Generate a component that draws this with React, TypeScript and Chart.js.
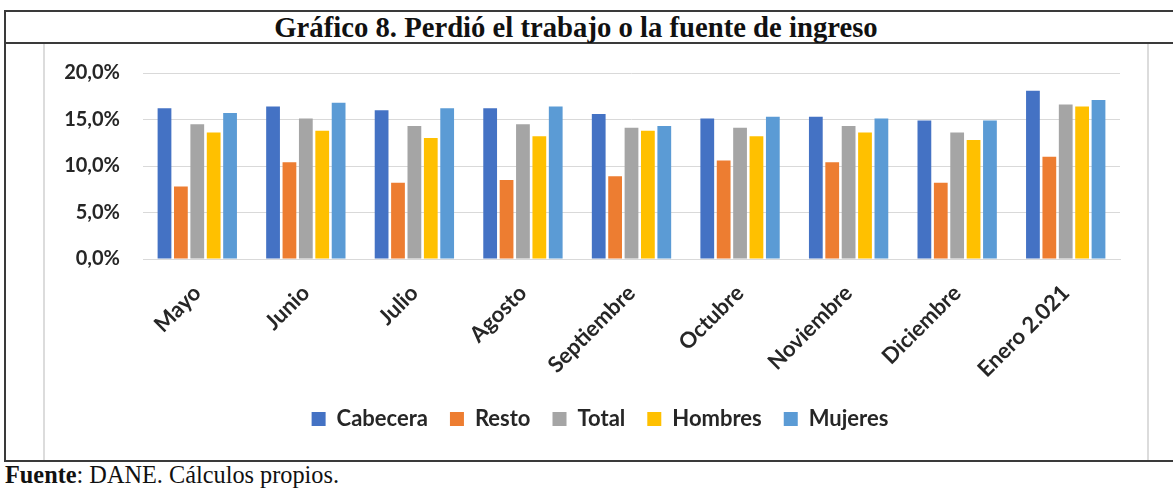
import React, { useEffect, useRef } from "react";
import { Chart, registerables } from "chart.js";

Chart.register(...registerables);

const categories = ["Mayo", "Junio", "Julio", "Agosto", "Septiembre", "Octubre", "Noviembre", "Diciembre", "Enero 2.021"];
const seriesNames = ["Cabecera", "Resto", "Total", "Hombres", "Mujeres"];
const cabecera = [16.2, 16.4, 16.0, 16.2, 15.6, 15.1, 15.3, 14.9, 18.1];
const resto = [7.8, 10.4, 8.2, 8.5, 8.9, 10.6, 10.4, 8.2, 11.0];
const total = [14.5, 15.1, 14.3, 14.5, 14.1, 14.1, 14.3, 13.6, 16.6];
const hombres = [13.6, 13.8, 13.0, 13.2, 13.8, 13.2, 13.6, 12.8, 16.4];
const mujeres = [15.7, 16.8, 16.2, 16.4, 14.3, 15.3, 15.1, 14.9, 17.1];
const yMin = 0;
const yMax = 20;
const yStep = 5;

const colors = ["#4472C4", "#ED7D31", "#A5A5A5", "#FFC000", "#5B9BD5"];
const FONT = "Lato, 'Open Sans', sans-serif";

// place the legend row centred at (555, 369) in canvas coordinates
const legendPlace = {
  id: "legendPlace",
  afterLayout(chart: any) {
    const lg = chart.legend;
    if (!lg) return;
    const dx = 555 - (lg.left + lg.right) / 2;
    const dy = 369 - (lg.top + lg.bottom) / 2;
    lg.left += dx;
    lg.right += dx;
    lg.top += dy;
    lg.bottom += dy;
  },
};

export default function App() {
  const ref = useRef<HTMLCanvasElement | null>(null);

  useEffect(() => {
    if (!ref.current) return;
    const seriesData = [cabecera, resto, total, hombres, mujeres];
    const chart = new Chart(ref.current, {
      type: "bar",
      data: {
        labels: categories,
        datasets: seriesNames.map((name, i) => ({
          label: name,
          data: seriesData[i],
          backgroundColor: colors[i],
          borderWidth: 0,
          barPercentage: 0.84,
          categoryPercentage: 0.755,
        })),
      },
      options: {
        responsive: false,
        animation: false,
        layout: { padding: { top: 29, right: 27, bottom: 0, left: 0 } },
        plugins: {
          title: { display: false },
          tooltip: { enabled: false },
          legend: {
            position: "bottom",
            labels: {
              boxWidth: 14,
              boxHeight: 14,
              padding: 22,
              color: "#262626",
              font: { family: FONT, size: 22, weight: "bold" },
            },
          },
        },
        scales: {
          x: {
            grid: { display: false },
            border: { display: true, color: "#d9d9d9", width: 1 },
            ticks: {
              minRotation: 45,
              maxRotation: 45,
              autoSkip: false,
              padding: 13,
              color: "#262626",
              font: { family: FONT, size: 22, weight: "bold" },
            },
            afterFit: (scale: any) => {
              scale.height = 147;
            },
          },
          y: {
            min: yMin,
            max: yMax,
            grid: { color: "#d9d9d9", drawTicks: true, tickLength: 23, tickColor: "rgba(0,0,0,0)" },
            border: { display: false },
            ticks: {
              stepSize: yStep,
              padding: 0,
              color: "#262626",
              font: { family: FONT, size: 20, weight: "bold" },
              callback: (v: any) => Number(v).toFixed(1).replace(".", ",") + "%",
            },
            afterFit: (scale: any) => {
              scale.width = 98;
            },
          },
        },
      },
      plugins: [legendPlace],
    });
    return () => chart.destroy();
  }, []);

  const abs = (s: React.CSSProperties): React.CSSProperties => ({ position: "absolute", ...s });

  return (
    <div style={abs({ left: 0, top: 0, width: 1173, height: 488, background: "#fff", overflow: "hidden" })}>
      <div style={abs({ left: 4, top: 10, width: 1169, height: 2, background: "#3a3a3a" })} />
      <div style={abs({ left: 4, top: 42, width: 1169, height: 2, background: "#3a3a3a" })} />
      <div style={abs({ left: 4, top: 460, width: 1169, height: 2, background: "#3a3a3a" })} />
      <div style={abs({ left: 4, top: 10, width: 2, height: 452, background: "#3a3a3a" })} />
      <div style={abs({ left: 43, top: 44, width: 2, height: 416, background: "#dcdcdc" })} />
      <div style={abs({ left: 1147, top: 44, width: 2, height: 416, background: "#dcdcdc" })} />
      <div
        style={abs({
          left: 4,
          top: 12,
          width: 1144,
          height: 30,
          lineHeight: "30px",
          textAlign: "center",
          fontFamily: "'Liberation Serif', 'Times New Roman', serif",
          fontWeight: "bold",
          fontSize: 28.7,
          color: "#111",
        })}
      >
        Gráfico 8. Perdió el trabajo o la fuente de ingreso
      </div>
      <div style={abs({ left: 45, top: 44, width: 1102, height: 416 })}>
        <canvas ref={ref} width={1102} height={416} style={{ width: 1102, height: 416, display: "block" }} />
      </div>
      <div
        style={abs({
          left: 5,
          top: 462,
          height: 26,
          lineHeight: "26px",
          fontFamily: "'Liberation Serif', 'Times New Roman', serif",
          fontSize: 24.3,
          color: "#111",
          whiteSpace: "nowrap",
        })}
      >
        <b>Fuente</b>: DANE. Cálculos propios.
      </div>
    </div>
  );
}
